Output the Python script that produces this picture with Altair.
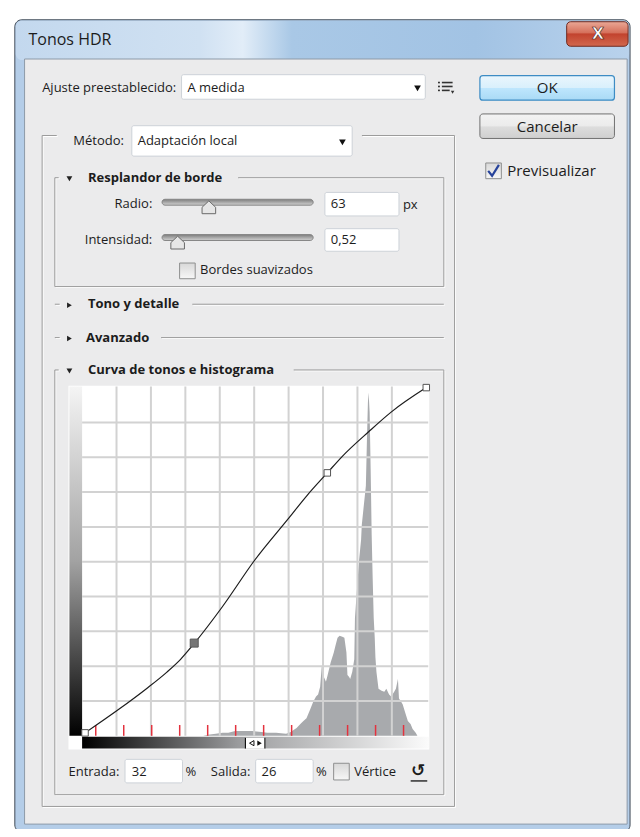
import altair as alt
import pandas as pd

# ---------------- data ----------------
# tone curve (input % -> output %)
curve_in = [0, 10.0, 18.0, 24.0, 28.0, 32.0, 40.3, 49.7, 59.7, 65.1, 71.0, 75.4, 83.1, 89.7, 100]
curve_out = [0, 6.9, 12.8, 17.6, 21.3, 25.9, 36.6, 50.0, 62.2, 68.8, 75.3, 80.1, 87.2, 92.9, 100]
# control points of the curve
ctrl_in = [0, 32, 71, 100]
ctrl_out = [0, 26, 75.3, 100]
ctrl_active = [False, True, False, False]
# histogram (level in % of input, relative count)
hist_level = [34.6, 36.0, 38.3, 40.3, 42.0, 44.0, 46.0, 48.9, 51.7, 53.4, 56.0, 58.9, 60.3, 61.1,
              62.0, 63.1, 64.0, 64.9, 66.0, 66.9, 67.7, 68.3, 68.9, 69.4, 70.0, 70.6, 71.1, 72.0,
              72.9, 73.4, 74.0, 74.6, 75.4, 76.0, 76.6, 76.9, 77.4, 77.7, 78.3, 78.9, 79.1, 79.7,
              80.3, 80.9, 81.1, 81.7, 82.3, 82.6, 82.9, 83.1, 83.4, 83.7, 84.0, 84.3, 84.6, 84.9,
              85.1, 85.4, 86.0, 86.9, 87.7, 88.3, 89.1, 89.7, 90.6, 91.1, 91.7, 92.0, 92.6, 93.1,
              93.7, 94.6, 95.4, 96.0, 96.9, 97.4]
hist_count = [0, 1, 2, 3, 3, 5, 5, 5, 4, 3, 3, 2, 4, 6,
              8, 12, 15, 18, 27, 35, 40, 42, 50, 72, 60, 55, 62, 75,
              85, 92, 100, 102, 101, 100, 85, 62, 60, 58, 65, 78, 120, 150,
              179, 200, 215, 235, 255, 300, 340, 350, 330, 272, 205, 160, 120, 100,
              80, 65, 48, 46, 45, 48, 42, 40, 45, 48, 58, 38, 35, 32,
              25, 15, 12, 7, 3, 0]
# field values / labels
title_text = "Tonos HDR"
preset_label, preset_value = "Ajuste preestablecido:", "A medida"
method_label, method_value = "Método:", "Adaptación local"
radio_label, radio_value, radio_unit = "Radio:", "63", "px"
intens_label, intens_value = "Intensidad:", "0,52"
entrada_label, entrada_value = "Entrada:", "32"
salida_label, salida_value = "Salida:", "26"
section_titles = ["Resplandor de borde", "Tono y detalle", "Avanzado", "Curva de tonos e histograma"]

# ---------------- layout helpers ----------------
REF_W, REF_H = 640, 837
W, H = 624, 821
kx, ky = W / REF_W, H / REF_H
XS = alt.Scale(domain=[0, REF_W], range=[0, W], nice=False, zero=False)
YS = alt.Scale(domain=[0, REF_H], range=[0, H], nice=False, zero=False)
FONT = "Open Sans"
INK = "#1c1c1c"


def X(f):
    return alt.X(f, type="quantitative", scale=XS, axis=None)


def Y(f):
    return alt.Y(f, type="quantitative", scale=YS, axis=None)


def rects(rows, **mk):
    df = pd.DataFrame(rows, columns=["x0", "y0", "x1", "y1"])
    return alt.Chart(df).mark_rect(**mk).encode(x=X("x0"), x2="x1", y=Y("y0"), y2="y1")


def segs(rows, **mk):
    df = pd.DataFrame(rows, columns=["x0", "y0", "x1", "y1"])
    return alt.Chart(df).mark_rule(**mk).encode(x=X("x0"), x2="x1", y=Y("y0"), y2="y1")


def texts(rows, **mk):
    df = pd.DataFrame(rows, columns=["t", "x", "y"])
    base = dict(font=FONT, fontSize=13, color=INK, align="left", baseline="middle")
    base.update(mk)
    return alt.Chart(df).mark_text(**base).encode(x=X("x"), y=Y("y"), text="t:N")


def pts(rows, **mk):
    df = pd.DataFrame(rows, columns=["x", "y"])
    base = dict(opacity=1)
    base.update(mk)
    return alt.Chart(df).mark_point(**base).encode(x=X("x"), y=Y("y"))


def grad(stops, vertical=True):
    return {"gradient": "linear", "x1": 0, "y1": 0,
            "x2": 0 if vertical else 1, "y2": 1 if vertical else 0,
            "stops": [{"offset": o, "color": c} for o, c in stops]}


layers = []
# window frame, title bar, body
layers.append(rects([(7, 12, 638, 840)], fill="#b4cde8", stroke="#414b56", strokeWidth=1, cornerRadius=7))
layers.append(rects([(8, 13, 637, 53)], cornerRadius=6,
                    fill=grad([(0, "#c3d8ee"), (0.3, "#d0e1f2"), (0.37, "#e2edf8"), (0.45, "#a9c8e6"),
                               (0.75, "#a2c3e4"), (1, "#b9d2ec")], vertical=False)))
layers.append(rects([(573, 14, 636, 39)], cornerRadius=4, stroke="#6e2a20", strokeWidth=1,
                    fill=grad([(0, "#eaa896"), (0.45, "#d5705b"), (0.5, "#c2432e"), (1, "#d2684e")])))
layers.append(texts([("X", 605, 26)], fontSize=16, fontWeight="bold", color="white", align="center",
                    stroke="#4a1a12", strokeWidth=0.6, font="DejaVu Sans"))
layers.append(rects([(17, 52, 635, 832)], fill="#ebebec", stroke="#8d9aa8", strokeWidth=1))
layers.append(texts([(title_text, 21, 33)], fontSize=16))

# group boxes (etched lines)
group_lines = [
    (35, 130, 50, 130), (363, 130, 458, 130), (35, 130, 35, 814), (458, 130, 458, 814), (35, 814, 458, 814),
    (48, 173, 52, 173), (236, 173, 447, 173), (48, 173, 48, 284), (447, 173, 447, 284), (48, 284, 447, 284),
    (48, 302, 53, 302), (189, 302, 447, 302),
    (48, 336, 53, 336), (157, 336, 447, 336),
    (48, 369, 52, 369), (293, 369, 447, 369), (48, 369, 48, 802), (447, 369, 447, 802), (48, 802, 447, 802),
]
layers.append(segs([(a + 1, b + 1, c + 1, d + 1) for a, b, c, d in group_lines], color="#ffffff", strokeWidth=1))
layers.append(segs(group_lines, color="#9c9c9c", strokeWidth=1))

# buttons
layers.append(rects([(484, 69, 622, 94)], cornerRadius=3, stroke="#3d8cc4", strokeWidth=1.2,
                    fill=grad([(0, "#eaf6fd"), (0.5, "#d9f0fc"), (0.52, "#bee6fd"), (1, "#a9daf5")])))
layers.append(rects([(484, 108, 622, 133)], cornerRadius=3, stroke="#707070", strokeWidth=1,
                    fill=grad([(0, "#f3f3f3"), (0.5, "#ebebeb"), (0.52, "#dddddd"), (1, "#cfcfcf")])))
layers.append(texts([("OK", 553, 82), ("Cancelar", 553, 121)], fontSize=15, align="center"))

# white fields
layers.append(rects([(178, 68, 428, 93), (127, 120, 353, 151), (325, 188, 401, 212), (325, 225, 401, 248),
                     (120, 766, 179, 790), (254, 766, 313, 790)],
                    fill="#ffffff", stroke="#cdd2d8", strokeWidth=1, cornerRadius=2))
# checkboxes
layers.append(rects([(490, 158, 506, 174), (176, 260, 192, 276), (334, 770, 350, 787)],
                    stroke="#8e8f8f", strokeWidth=1,
                    fill=grad([(0, "#d8d8d8"), (1, "#f7f7f7")])))
chk = pd.DataFrame({"x": [492.5, 496.5, 503.5], "y": [166, 171, 160]})
layers.append(alt.Chart(chk).mark_line(color="#27439b", strokeWidth=2.2).encode(x=X("x"), y=Y("y")))

# dropdown arrows and header triangles
layers.append(pts([(420, 82), (343, 137)], shape="triangle-down", size=45, filled=True, color="#111"))
layers.append(pts([(63, 174), (63, 370)], shape="triangle-down", size=34, filled=True, color="#222"))
layers.append(pts([(63, 303), (63, 337)], shape="triangle-right", size=30, filled=True, color="#222"))
# preset menu icon
layers.append(segs([(445, 76, 456, 76), (445, 80, 456, 80), (445, 84, 453, 84),
                    (441, 76, 443, 76), (441, 80, 443, 80), (441, 84, 443, 84)], color="#333", strokeWidth=1.6))
layers.append(pts([(456, 86)], shape="triangle-down", size=12, filled=True, color="#333"))

# sliders
layers.append(rects([(158, 195, 313, 201), (158, 231, 313, 237)], cornerRadius=3, stroke="#858585",
                    strokeWidth=1, fill=grad([(0, "#7d7d7d"), (1, "#d2d2d2")])))
layers.append(pts([(206, 204), (174, 240)], shape="M-0.85,-0.1L0,-0.9L0.85,-0.1L0.85,0.7L-0.85,0.7Z",
                  size=256, filled=True, fill="#e6e6e6", stroke="#6b6b6b", strokeWidth=1))

# labels
layers.append(texts([(preset_label, 35, 82), (preset_value, 184, 82), (method_label, 67, 136),
                     (method_value, 133, 136), (radio_value, 331, 200), (radio_unit, 405, 201),
                     (intens_value, 331, 237), ("Bordes suavizados", 197, 267),
                     (entrada_label, 62, 779), (entrada_value, 127, 779), ("%", 182, 779),
                     (salida_label, 208, 779), (salida_value, 260, 779), ("%", 316, 779),
                     ("Vértice", 355, 779)]))
layers.append(texts([(radio_label, 148, 200), (intens_label, 148, 237)], align="right"))
layers.append(texts([("Previsualizar", 512, 166)], fontSize=15))
layers.append(texts([(section_titles[0], 82, 173), (section_titles[1], 82, 302),
                     (section_titles[2], 80, 336), (section_titles[3], 82, 369)], fontWeight="bold"))
layers.append(texts([("↺", 421, 778)], font="DejaVu Sans", fontSize=17, fontWeight="bold", align="center"))
layers.append(segs([(413, 788, 430, 788)], color="#222", strokeWidth=1.4))

# histogram panel
layers.append(rects([(62, 385, 432, 756)], fill="#ffffff"))
layers.append(rects([(63, 386, 76, 742)], fill=grad([(0, "#f4f4f4"), (0.5, "#a2a2a2"), (1, "#000000")])))
layers.append(rects([(76, 743, 432, 755)],
                    fill=grad([(0, "#000000"), (0.45, "#9a9b9d"), (1, "#fbfbfb")], vertical=False)))

CX = alt.Scale(domain=[0, 100], range=[79 * kx, 429 * kx], nice=False, zero=False)
CY = alt.Scale(domain=[0, 100], range=[739 * ky, 387 * ky], nice=False, zero=False)
HY = alt.Scale(domain=[0, 352], range=[742 * ky, 390 * ky], nice=False, zero=False)

hist_df = pd.DataFrame({"level": hist_level, "count": hist_count})
layers.append(alt.Chart(hist_df).mark_area(color="#a8aaad", interpolate="linear").encode(
    x=alt.X("level:Q", scale=CX, axis=None), y=alt.Y("count:Q", scale=HY, axis=None)))

grid_v = [(76 + 35.3 * i, 386, 76 + 35.3 * i, 742) for i in range(1, 10)]
grid_h = [(76, 387 + 35.5 * j, 431, 387 + 35.5 * j) for j in range(1, 10)]
layers.append(segs(grid_v + grid_h, color="#d2d2d2", strokeWidth=2))
ticks = [(90 + 28.7 * k, 731, 90 + 28.7 * k, 742) for k in range(12)]
layers.append(segs(ticks, color="#e3323e", strokeWidth=1.5))

# slider handle on the tone bar
layers.append(rects([(243, 744, 264, 755)], fill="#ffffff"))
layers.append(segs([(243.5, 744, 243.5, 755), (263.5, 744, 263.5, 755)], color="#111", strokeWidth=1.2))
layers.append(pts([(250, 749.5)], shape="triangle-left", size=26, filled=False, color="#111", strokeWidth=1))
layers.append(pts([(258, 749.5)], shape="triangle-right", size=26, filled=True, color="#111"))

curve_df = pd.DataFrame({"in": curve_in, "out": curve_out})
layers.append(alt.Chart(curve_df).mark_line(color="#1c1c1c", strokeWidth=1.2, interpolate="monotone").encode(
    x=alt.X("in:Q", scale=CX, axis=None), y=alt.Y("out:Q", scale=CY, axis=None)))

ctrl_df = pd.DataFrame({"in": ctrl_in, "out": ctrl_out, "active": ctrl_active})
layers.append(alt.Chart(ctrl_df[~ctrl_df["active"]]).mark_square(
    size=42, fill="#ffffff", stroke="#555555", strokeWidth=1, opacity=1).encode(
    x=alt.X("in:Q", scale=CX, axis=None), y=alt.Y("out:Q", scale=CY, axis=None)))
layers.append(alt.Chart(ctrl_df[ctrl_df["active"]]).mark_square(
    size=64, fill="#767676", stroke="#5a5a5a", strokeWidth=1, opacity=1).encode(
    x=alt.X("in:Q", scale=CX, axis=None), y=alt.Y("out:Q", scale=CY, axis=None)))

chart = (
    alt.layer(*layers)
    .resolve_scale(x="independent", y="independent")
    .properties(width=W, height=H, padding=0, autosize=alt.AutoSizeParams(type="none"),
                background="#ffffff")
    .configure_view(strokeWidth=0)
)
chart.save("out.html", embed_options={"renderer": "svg", "actions": False})
